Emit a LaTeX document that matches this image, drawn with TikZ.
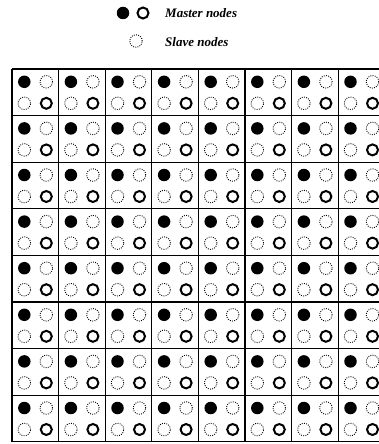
\documentclass[tikz,border=0pt]{standalone}
\usepackage{fontspec}
\setmainfont{Liberation Serif}
\begin{document}
\begin{tikzpicture}[x=1pt,y=-1pt,
  master/.style={circle,fill=black,inner sep=0pt,minimum size=12.5pt},
  masterring/.style={circle,draw=black,line width=2pt,inner sep=0pt,minimum size=11pt},
  slave/.style={circle,draw=black,line width=0.9pt,dash pattern=on 0.9pt off 1.3pt,inner sep=0pt,minimum size=12.5pt},
  gridline/.style={line width=1.3pt},
  legendtext/.style={anchor=west,font=\bfseries\itshape\fontsize{13}{15}\selectfont,inner sep=0pt}]
\useasboundingbox (0,0) rectangle (378,444);
% legend
\node[master] (lm) at (123,13) {};
\node[masterring] (lr) at (143,13) {};
\node[legendtext] (lmt) at (165,13) {Master nodes};
\node[slave] (ls) at (136,41) {};
\node[legendtext] (lst) at (165,42) {Slave nodes};
% grid
\def\cs{46.6}
\foreach \i in {0,...,7}{
  \foreach \j in {0,...,7}{
    \pgfmathsetmacro{\cx}{12+\i*\cs}
    \pgfmathsetmacro{\cy}{69+\j*\cs}
    \node[master] (a-\i-\j) at (\cx+12.3,\cy+12.8) {};
    \node[slave] (b-\i-\j) at (\cx+34.3,\cy+12.8) {};
    \node[slave] (c-\i-\j) at (\cx+12.3,\cy+34.3) {};
    \node[masterring] (d-\i-\j) at (\cx+34.3,\cy+34.3) {};
  }
}
\foreach \k in {0,...,8}{
  \draw[gridline] (12+\k*\cs,69) -- (12+\k*\cs,69+8*\cs);
  \draw[gridline] (12,69+\k*\cs) -- (12+8*\cs,69+\k*\cs);
}
\end{tikzpicture}
\end{document}
